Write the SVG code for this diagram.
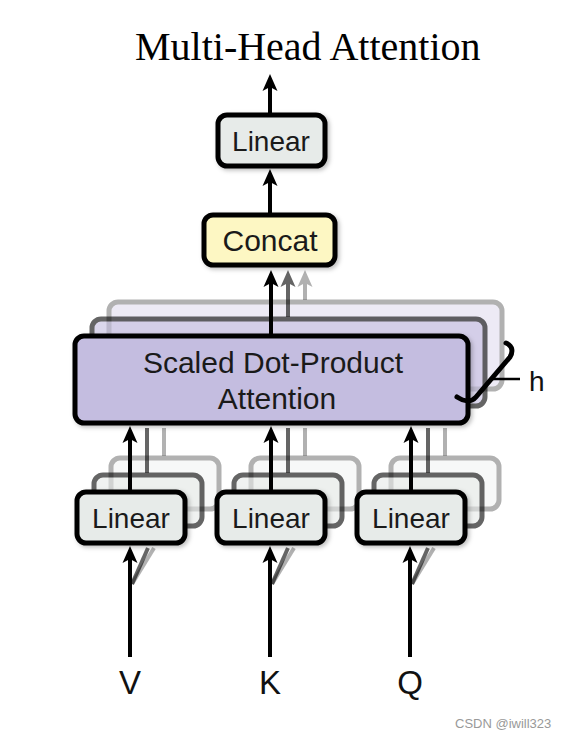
<svg xmlns="http://www.w3.org/2000/svg" width="568" height="739" viewBox="0 0 568 739">
<defs>
<marker id="ah" markerUnits="userSpaceOnUse" markerWidth="20" markerHeight="16" viewBox="-8 -8 20 16" refX="0" refY="0" orient="auto" overflow="visible">
<path d="M10,0 L-7,-7.5 L-3,0 L-7,7.5 Z" fill="#000"/>
</marker>
<filter id="sh" x="-10%" y="-10%" width="130%" height="140%">
<feDropShadow dx="2" dy="2" stdDeviation="2" flood-color="#000" flood-opacity="0.25"/>
</filter>
<style>
.box{stroke:#000;stroke-width:5;}
.lin{fill:#e7ebe9;}
.cat{fill:#fdf7c3;}
.att{fill:#c4bde0;}
.l2{opacity:0.6;}
.l3{opacity:0.3;}
.lbl{font-family:"Liberation Sans",Arial,sans-serif;font-size:28px;fill:#1a1a1a;text-anchor:middle;}
.big{font-size:30px;}
.io{font-family:"Liberation Sans",Arial,sans-serif;font-size:33px;fill:#111;text-anchor:middle;}
.arr{stroke:#000;stroke-width:4;fill:none;}
</style>
</defs>
<rect width="568" height="739" fill="#fff"/>
<g id="title">
<text x="135" y="60" font-family="'Liberation Serif','Times New Roman',serif" font-size="40" fill="#000">Multi-Head Attention</text>
</g>
<g id="attention">
<g class="l3"><rect class="box att" x="109" y="302" width="393" height="87" rx="9"/></g>
<g class="l2"><rect class="box att" x="92" y="319" width="393" height="87" rx="9"/></g>
<rect class="box att" x="75" y="336" width="393" height="87" rx="9" filter="url(#sh)"/>
<text class="lbl big" x="273" y="373">Scaled Dot-Product</text>
<text class="lbl big" x="277" y="409">Attention</text>
</g>
<g id="linear-v">
<g class="l3"><rect class="box lin" x="111" y="458" width="108" height="51" rx="9"/></g>
<g class="l2"><rect class="box lin" x="94" y="475" width="108" height="51" rx="9"/></g>
<rect class="box lin" x="77" y="492" width="108" height="51" rx="9" filter="url(#sh)"/>
<text class="lbl" x="131" y="528">Linear</text>
</g>
<g id="linear-k">
<g class="l3"><rect class="box lin" x="251" y="458" width="108" height="51" rx="9"/></g>
<g class="l2"><rect class="box lin" x="234" y="475" width="108" height="51" rx="9"/></g>
<rect class="box lin" x="217" y="492" width="108" height="51" rx="9" filter="url(#sh)"/>
<text class="lbl" x="271" y="528">Linear</text>
</g>
<g id="linear-q">
<g class="l3"><rect class="box lin" x="391" y="458" width="108" height="51" rx="9"/></g>
<g class="l2"><rect class="box lin" x="374" y="475" width="108" height="51" rx="9"/></g>
<rect class="box lin" x="357" y="492" width="108" height="51" rx="9" filter="url(#sh)"/>
<text class="lbl" x="411" y="528">Linear</text>
</g>
<g id="concat">
<rect class="box cat" x="204" y="215" width="131" height="50" rx="9" filter="url(#sh)"/>
<text class="lbl big" x="270" y="251">Concat</text>
</g>
<g id="linear-out">
<rect class="box lin" x="218" y="115" width="107" height="51" rx="9" filter="url(#sh)"/>
<text class="lbl" x="271" y="151">Linear</text>
</g>
<g id="connectors">
<line class="arr" x1="270" y1="113" x2="270" y2="84" marker-end="url(#ah)"/>
<line class="arr" x1="270" y1="213" x2="270" y2="179" marker-end="url(#ah)"/>
<line class="arr" x1="271" y1="334" x2="271" y2="280" marker-end="url(#ah)"/>
<g class="l2"><line class="arr" x1="288" y1="317" x2="288" y2="280" marker-end="url(#ah)"/></g>
<g class="l3"><line class="arr" x1="305" y1="300" x2="305" y2="280" marker-end="url(#ah)"/></g>
<line class="arr" x1="130" y1="490" x2="130" y2="436" marker-end="url(#ah)"/>
<line class="arr" x1="271" y1="490" x2="271" y2="436" marker-end="url(#ah)"/>
<line class="arr" x1="411" y1="490" x2="411" y2="436" marker-end="url(#ah)"/>
<g class="l2">
<line class="arr" x1="147" y1="473" x2="147" y2="428"/>
<line class="arr" x1="288" y1="473" x2="288" y2="428"/>
<line class="arr" x1="428" y1="473" x2="428" y2="428"/>
</g>
<g class="l3">
<line class="arr" x1="164" y1="456" x2="164" y2="428"/>
<line class="arr" x1="305" y1="456" x2="305" y2="428"/>
<line class="arr" x1="445" y1="456" x2="445" y2="428"/>
</g>
<g class="l2">
<line class="arr" x1="132" y1="584" x2="148" y2="548"/>
<line class="arr" x1="272" y1="584" x2="288" y2="548"/>
<line class="arr" x1="412" y1="584" x2="428" y2="548"/>
</g>
<g class="l3">
<line class="arr" x1="132" y1="584" x2="154" y2="548"/>
<line class="arr" x1="272" y1="584" x2="294" y2="548"/>
<line class="arr" x1="412" y1="584" x2="434" y2="548"/>
</g>
<line class="arr" x1="130" y1="657" x2="130" y2="556" marker-end="url(#ah)"/>
<line class="arr" x1="270" y1="657" x2="270" y2="556" marker-end="url(#ah)"/>
<line class="arr" x1="410" y1="657" x2="410" y2="556" marker-end="url(#ah)"/>
</g>
<g id="h-label">
<path d="M506,343 C513,346 513,352 510,357 L476,397 C471,403 463,401 457,397" fill="none" stroke="#000" stroke-width="5" stroke-linecap="round"/>
<line x1="492" y1="379" x2="520" y2="379" stroke="#000" stroke-width="2.5"/>
<text x="529" y="391" font-family="'Liberation Sans',Arial,sans-serif" font-size="28" fill="#111">h</text>
</g>
<g id="inputs">
<text class="io" x="130" y="694">V</text>
<text class="io" x="270" y="694">K</text>
<text class="io" x="410" y="694">Q</text>
</g>
<text x="455" y="728" font-family="'Liberation Sans',Arial,sans-serif" font-size="13" fill="#999">CSDN @iwill323</text>
</svg>
